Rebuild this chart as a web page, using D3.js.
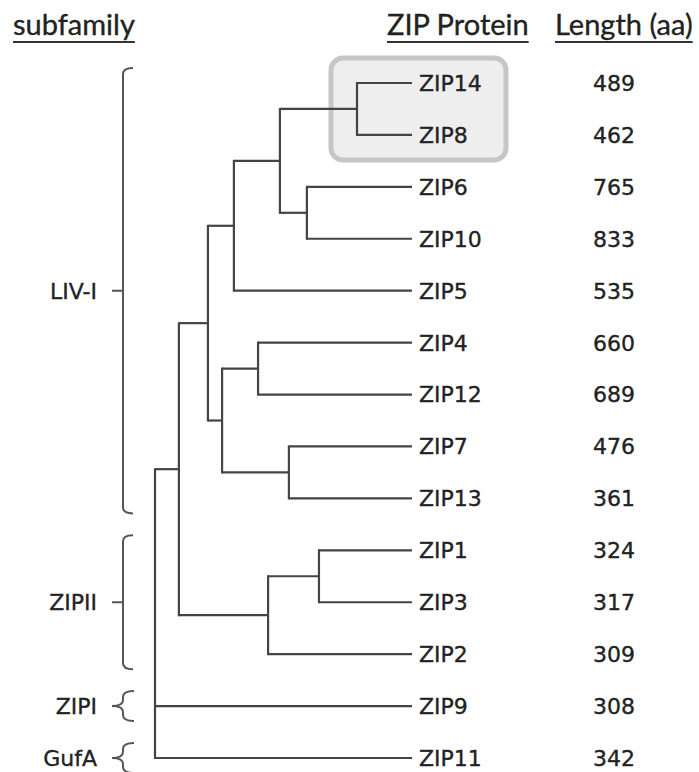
<!DOCTYPE html>
<html>
  <script src="https://cdn.jsdelivr.net/npm/d3@7"></script>
  <style>
    body{ margin: 0; background: #fff; }
    .branch{ stroke: #444; stroke-width: 2.2; fill: none; }
    .brace{ stroke: #555; stroke-width: 2; fill: none; }
    text{ fill: #222; stroke: #222; stroke-width: 0.35; }
  </style>
  <body>
    <script>

// leaves top to bottom, protein lengths (aa)
var leaves = ['ZIP14','ZIP8','ZIP6','ZIP10','ZIP5','ZIP4','ZIP12','ZIP7','ZIP13','ZIP1','ZIP3','ZIP2','ZIP9','ZIP11']
  , lengths = [489, 462, 765, 833, 535, 660, 689, 476, 361, 324, 317, 309, 308, 342]
  , headers = ['subfamily', 'ZIP Protein', 'Length (aa)']
  , subfamilies = ['LIV-I', 'ZIPII', 'ZIPI', 'GufA']
  , subFirst = ['ZIP14', 'ZIP1', 'ZIP9', 'ZIP11']
  , subLast = ['ZIP13', 'ZIP2', 'ZIP9', 'ZIP11']
  , highlighted = ['ZIP14', 'ZIP8']

// node depth from root (0) to leaves (1)
function leaf(name){ return {name: name, h: 1} }
var tree = {h: 0, children: [
  {h: 0.093, children: [
    {h: 0.206, children: [
      {h: 0.307, children: [
        {h: 0.486, children: [
          {h: 0.786, children: [leaf('ZIP14'), leaf('ZIP8')]},
          {h: 0.591, children: [leaf('ZIP6'), leaf('ZIP10')]}
        ]},
        leaf('ZIP5')
      ]},
      {h: 0.261, children: [
        {h: 0.401, children: [leaf('ZIP4'), leaf('ZIP12')]},
        {h: 0.521, children: [leaf('ZIP7'), leaf('ZIP13')]}
      ]}
    ]},
    {h: 0.44, children: [
      {h: 0.638, children: [leaf('ZIP1'), leaf('ZIP3')]},
      leaf('ZIP2')
    ]}
  ]},
  leaf('ZIP9'),
  leaf('ZIP11')
]}

var width = 699, height = 772
var svg = d3.select('body').append('svg').attr('width', width).attr('height', height)

var x = d3.scaleLinear().domain([0, 1]).range([155, 412])
  , y = d3.scalePoint().domain(leaves).range([83, 758])

var root = d3.hierarchy(tree)
root.eachAfter(function(d){
  d.px = x(d.data.h)
  if(d.children) d.py = (d.children[0].py + d.children[d.children.length - 1].py) / 2
  else d.py = y(d.data.name)
})

// highlight box around the ZIP14 / ZIP8 clade
svg.append('rect')
  .attr('x', 331).attr('y', y(highlighted[0]) - 25)
  .attr('width', 175).attr('height', y(highlighted[1]) - y(highlighted[0]) + 50)
  .attr('rx', 12)
  .attr('fill', '#eeeeee').attr('stroke', '#c6c6c6').attr('stroke-width', 5)

// branches
var g = svg.append('g')
root.each(function(d){
  if(!d.children) return
  var kids = d.children
  g.append('line').attr('class', 'branch')
    .attr('x1', d.px).attr('x2', d.px)
    .attr('y1', kids[0].py - 1).attr('y2', kids[kids.length - 1].py + 1)
  kids.forEach(function(c){
    g.append('line').attr('class', 'branch')
      .attr('x1', d.px).attr('x2', c.px)
      .attr('y1', c.py).attr('y2', c.py)
  })
})

// leaf names and lengths
svg.selectAll('.leaf').data(leaves).enter().append('text')
  .attr('x', 419).attr('y', function(d){ return y(d) })
  .attr('dy', '0.36em')
  .style('font-family', '"DejaVu Sans"').style('font-size', '22px')
  .text(function(d){ return d })

svg.selectAll('.len').data(lengths).enter().append('text')
  .attr('x', 614).attr('y', function(d, i){ return y(leaves[i]) })
  .attr('dy', '0.36em').attr('text-anchor', 'middle')
  .style('font-family', '"DejaVu Sans"').style('font-size', '22px')
  .text(function(d){ return d })

// subfamily braces
var bx = 123
subfamilies.forEach(function(name, i){
  var top = y(subFirst[i]) - 15, bot = y(subLast[i]) + 15
    , mid = (top + bot) / 2, r = 6
    , big = bot - top > 60
    , path
  if(big){
    path = 'M' + (bx + 10) + ',' + top + 'Q' + bx + ',' + top + ' ' + bx + ',' + (top + r) +
      'L' + bx + ',' + (bot - r) + 'Q' + bx + ',' + bot + ' ' + (bx + 10) + ',' + bot +
      'M' + bx + ',' + mid + 'L' + (bx - 11) + ',' + mid
  } else {
    path = 'M' + (bx + 11) + ',' + top + 'Q' + bx + ',' + top + ' ' + bx + ',' + (top + r) +
      'L' + bx + ',' + (mid - r) + 'Q' + bx + ',' + mid + ' ' + (bx - 11) + ',' + mid +
      'Q' + bx + ',' + mid + ' ' + bx + ',' + (mid + r) +
      'L' + bx + ',' + (bot - r) + 'Q' + bx + ',' + bot + ' ' + (bx + 11) + ',' + bot
  }
  svg.append('path').attr('class', 'brace').attr('d', path)
  svg.append('text')
    .attr('x', 97).attr('y', mid).attr('dy', '0.36em').attr('text-anchor', 'end')
    .style('font-family', '"DejaVu Sans"').style('font-size', '22px')
    .text(name)
})

// column headers, underlined
var hx = [13, 387, 555]
headers.forEach(function(h, i){
  var t = svg.append('text').attr('x', hx[i]).attr('y', 35)
    .style('font-family', 'Lato').style('font-size', '29px').text(h)
  var w = t.node().getComputedTextLength()
  svg.append('line').attr('x1', hx[i]).attr('x2', hx[i] + w)
    .attr('y1', 42).attr('y2', 42).attr('stroke', '#333').attr('stroke-width', 2)
})

    </script>
  </body>
</html>
